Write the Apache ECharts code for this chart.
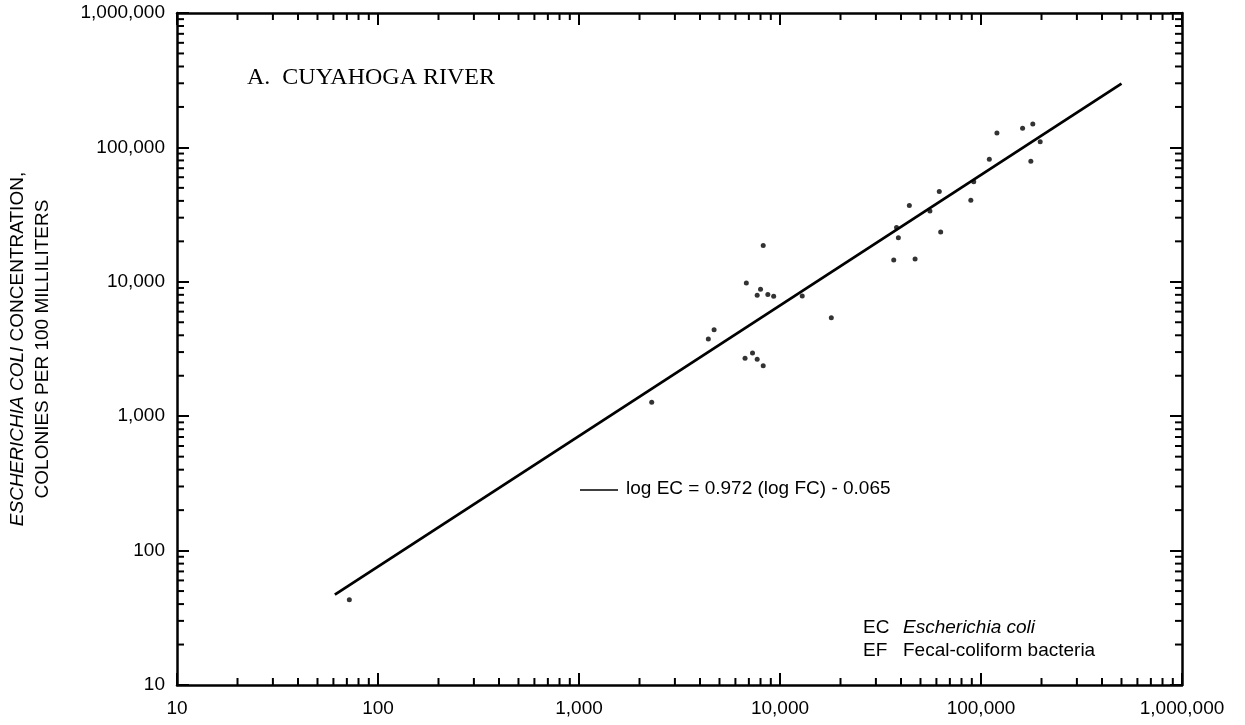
<!DOCTYPE html>
<html><head><meta charset="utf-8">
<script src="https://cdn.jsdelivr.net/npm/echarts@6/dist/echarts.min.js"></script>
<style>html,body{margin:0;padding:0;background:#fff}#c{width:1245px;height:725px}</style>
</head><body><div id="c"></div>
<script>
// Fecal-coliform (x) and E. coli (y) concentrations, colonies per 100 mL
const fecalColiform = [72, 2300, 4400, 4700, 6800, 6700, 7300, 7700, 8250, 8250, 8000, 7700, 8700, 9300, 12900, 18000,
  36800, 47000, 38000, 38800, 44000, 55700, 63000, 62000, 89000, 92000, 110000, 120000, 161000, 181000, 177000, 197000];
const eColi = [43, 1270, 3750, 4400, 9800, 2700, 2950, 2650, 2370, 18600, 8800, 7950, 8050, 7800, 7850, 5400,
  14500, 14800, 25300, 21300, 37000, 33600, 23500, 47000, 40500, 55500, 81500, 128000, 139000, 149000, 79000, 110000];
// regression line end points (log EC = 0.972 (log FC) - 0.065)
const lineFC = [61, 500000];
const lineEC = [47, 298000];
const majorTicks = [10, 100, 1000, 10000, 100000, 1000000];
const minorSteps = [2, 3, 4, 5, 6, 7, 8, 9];

const points = fecalColiform.map((v, i) => [v, eColi[i]]);
const regLine = lineFC.map((v, i) => [v, lineEC[i]]);
const minorVals = [];
majorTicks.slice(0, -1).forEach(d => minorSteps.forEach(s => minorVals.push(d * s)));

const fmt = v => Number(v).toLocaleString('en-US');
const SANS = '"Liberation Sans", Arial, sans-serif';
const FS = 19;
const chart = echarts.init(document.getElementById('c'), null, {renderer: 'canvas'});

function axisBase(show) {
  return {
    type: 'log', logBase: 10, min: 10, max: 1000000,
    axisLine: {show: true, onZero: false, lineStyle: {color: '#000', width: 2.5}},
    axisTick: {show: true, inside: true, length: 12, lineStyle: {color: '#000', width: 2}},
    splitLine: {show: false},
    axisLabel: {show: show, formatter: fmt, color: '#000', fontFamily: SANS, fontSize: FS}
  };
}
const xb = axisBase(true); xb.position = 'bottom'; xb.axisLabel.margin = 14;
const xt = axisBase(false); xt.position = 'top';
const yl = axisBase(true); yl.position = 'left'; yl.axisLabel.margin = 12;
yl.name = '{i|ESCHERICHIA COLI} CONCENTRATION,\nCOLONIES PER 100 MILLILITERS';
yl.nameLocation = 'middle'; yl.nameGap = 122; yl.nameRotate = 90;
yl.nameTextStyle = {color: '#000', fontFamily: SANS, fontSize: FS, lineHeight: 25,
  rich: {i: {fontStyle: 'italic', fontFamily: SANS, fontSize: FS, color: '#000'}}};
const yr = axisBase(false); yr.position = 'right';

function minorRender(isX) {
  return function (params, api) {
    const cs = params.coordSys;
    const v = api.value(isX ? 0 : 1);
    const L = 7;
    const st = {stroke: '#000', lineWidth: 2};
    if (isX) {
      const x = api.coord([v, 10])[0];
      return {type: 'group', children: [
        {type: 'line', shape: {x1: x, y1: cs.y + cs.height, x2: x, y2: cs.y + cs.height - L}, style: st},
        {type: 'line', shape: {x1: x, y1: cs.y, x2: x, y2: cs.y + L}, style: st}
      ]};
    } else {
      const y = api.coord([10, v])[1];
      return {type: 'group', children: [
        {type: 'line', shape: {x1: cs.x, y1: y, x2: cs.x + L, y2: y}, style: st},
        {type: 'line', shape: {x1: cs.x + cs.width, y1: y, x2: cs.x + cs.width - L, y2: y}, style: st}
      ]};
    }
  };
}

chart.setOption({
  animation: false,
  backgroundColor: '#fff',
  grid: {left: 177, right: 63, top: 13, bottom: 40, containLabel: false, outerBoundsMode: 'none'},
  xAxis: [xb, xt],
  yAxis: [yl, yr],
  series: [
    {type: 'custom', renderItem: minorRender(true), data: minorVals.map(v => [v, 10]), silent: true, clip: false, xAxisIndex: 0, yAxisIndex: 0},
    {type: 'custom', renderItem: minorRender(false), data: minorVals.map(v => [10, v]), silent: true, clip: false, xAxisIndex: 0, yAxisIndex: 0},
    {type: 'line', data: regLine, symbol: 'none', lineStyle: {color: '#000', width: 2.8}, silent: true, xAxisIndex: 0, yAxisIndex: 0},
    {type: 'scatter', data: points, symbol: 'circle', symbolSize: 5, itemStyle: {color: '#000'}, xAxisIndex: 0, yAxisIndex: 0}
  ],
  graphic: [
    {type: 'text', left: 247, top: 66, style: {text: 'A.  CUYAHOGA RIVER', fill: '#000', font: '24px "Liberation Serif", "Times New Roman", serif'}},
    {type: 'line', shape: {x1: 580, y1: 490, x2: 618, y2: 490}, style: {stroke: '#000', lineWidth: 1.5}},
    {type: 'text', left: 626, top: 479, style: {text: 'log EC = 0.972 (log FC) - 0.065', fill: '#000', font: FS + 'px "Liberation Sans", Arial, sans-serif'}},
    {type: 'text', left: 863, top: 616, style: {
      text: '{a|EC}{b|Escherichia coli}\n{a|EF}{c|Fecal-coliform bacteria}', lineHeight: 23,
      rich: {
        a: {width: 40, fill: '#000', font: FS + 'px "Liberation Sans", Arial, sans-serif', lineHeight: 23},
        b: {fill: '#000', font: 'italic ' + FS + 'px "Liberation Sans", Arial, sans-serif', lineHeight: 23},
        c: {fill: '#000', font: FS + 'px "Liberation Sans", Arial, sans-serif', lineHeight: 23}
      }}}
  ]
});
</script>
</body></html>
